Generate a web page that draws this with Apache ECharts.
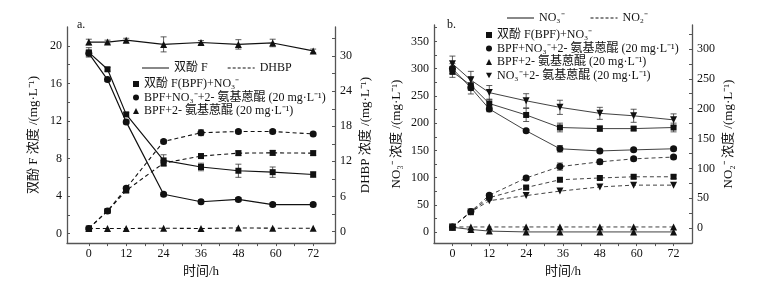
<!DOCTYPE html>
<html>
<head>
<meta charset="utf-8">
<script src="https://cdn.jsdelivr.net/npm/echarts@6/dist/echarts.min.js"></script>
<style>
  html, body { margin: 0; padding: 0; background: #fff; }
  #chart { width: 757px; height: 283px; }
</style>
</head>
<body>
<div id="chart"></div>
<script>
// ---- panel a: BPF (left axis) and DHBP (right axis) ----
const timesA = [0, 6, 12, 24, 36, 48, 59, 72];
const bpfNo3 = [19.3, 17.5, 12.7, 7.8, 7.1, 6.7, 6.55, 6.3];
const bpfNo3Aq = [19.2, 16.4, 11.9, 4.2, 3.4, 3.65, 3.1, 3.1];
const bpfAq = [20.4, 20.4, 20.6, 20.15, 20.35, 20.15, 20.3, 19.45];
const dhbpNo3 = [0.5, 3.5, 7.0, 11.7, 12.9, 13.4, 13.45, 13.4];
const dhbpNo3Aq = [0.5, 3.5, 7.4, 15.4, 16.9, 17.1, 17.1, 16.7];
const dhbpAq = [0.5, 0.5, 0.5, 0.55, 0.5, 0.6, 0.55, 0.55];
const errBpfNo3 = [0.5, 0.2, 0.2, 0.6, 0.4, 0.7, 0.55, 0.3];
const errBpfNo3Aq = [0.3, 0.2, 0.2, 0.2, 0.2, 0.2, 0.2, 0.2];
const errBpfAq = [0.3, 0.2, 0.2, 0.8, 0.2, 0.5, 0.4, 0.2];
const errDhbpNo3 = [0.2, 0.2, 0.3, 0.5, 0.4, 0.4, 0.4, 0.4];
const errDhbpNo3Aq = [0.2, 0.2, 0.3, 0.3, 0.5, 0.3, 0.3, 0.3];

// ---- panel b: NO3- (left axis) and NO2- (right axis) ----
const timesB = [0, 6, 12, 24, 35, 48, 59, 72];
const no3Bpf = [294, 269.5, 236, 215, 192, 190, 190, 192];
const no3BpfAq = [300, 265, 226, 186, 153, 149, 151, 153];
const no3BpfOnlyAq = [9, 5, 2, 0.5, 0.5, 0.5, 0.5, 0.5];
const no3Aq = [309, 279, 256, 241, 229, 218, 213.5, 206];
const no2Bpf = [2, 26.7, 51, 68, 81, 84, 86, 86];
const no2BpfAq = [2, 28, 55, 84, 103, 111, 116, 119];
const no2BpfOnlyAq = [2, 2, 2, 2, 2, 2, 2, 2];
const no2Aq = [2, 27, 46, 54.5, 62, 69, 72, 72];
const errNo3Bpf = [10, 16, 8, 12, 8, 5, 3, 8];
const errNo3BpfAq = [9, 5, 5, 3, 6, 3, 3, 3];
const errNo3Aq = [14, 16, 13, 13, 13, 11, 12, 11];
const errNo2BpfAq = [1, 2, 3, 3, 6, 4, 3, 3];
const errNo2Bpf = [1, 2, 2, 2, 3, 3, 3, 3];

const xLabels = [0, 12, 24, 36, 48, 60, 72];
const xTicks = [0, 6, 12, 18, 24, 30, 36, 42, 48, 54, 60, 66, 72];

const FONT = "'Liberation Serif', 'Noto Sans CJK SC', serif";
const INK = '#111';
const AXIS = '#555';
const downTri = 'path://M0,0 L10,0 L5,9 Z';

const N_BPF = '双酚 F(BPF)+NO₃⁻';
const N_BPF_AQ_NO3 = 'BPF+NO₃⁻+2- 氨基蒽醌 (20 mg·L⁻¹)';
const N_BPF_AQ = 'BPF+2- 氨基蒽醌 (20 mg·L⁻¹)';
const N_NO3_AQ = 'NO₃⁻+2- 氨基蒽醌 (20 mg·L⁻¹)';

// legend icons for line styles (a thin bar, solid or dashed)
const LW = 27;
const solidIcon = 'path://M0,0 L' + LW + ',0 L' + LW + ',1 L0,1 Z';
let dashIcon = 'path://';
for (let x = 0; x < LW; x += 5) {
  const e = Math.min(x + 3, LW);
  dashIcon += 'M' + x + ',0 L' + e + ',0 L' + e + ',1 L' + x + ',1 Z ';
}

function steps(from, to, step) {
  const out = [];
  for (let v = from; v <= to + 1e-9; v += step) out.push(v);
  return out;
}

function pairs(xs, ys) { return xs.map((x, i) => [x, ys[i]]); }
function triples(xs, ys, es) { return xs.map((x, i) => [x, ys[i], es[i]]); }

function errRender(params, api) {
  const x = api.value(0), y = api.value(1), e = api.value(2);
  const hi = api.coord([x, y + e]);
  const lo = api.coord([x, y - e]);
  const w = 3;
  const st = { stroke: '#333', lineWidth: 0.8 };
  return {
    type: 'group',
    children: [
      { type: 'line', shape: { x1: hi[0], y1: hi[1], x2: lo[0], y2: lo[1] }, style: st },
      { type: 'line', shape: { x1: hi[0] - w, y1: hi[1], x2: hi[0] + w, y2: hi[1] }, style: st },
      { type: 'line', shape: { x1: lo[0] - w, y1: lo[1], x2: lo[0] + w, y2: lo[1] }, style: st }
    ]
  };
}

function errSeries(xi, yi, xs, ys, es) {
  return {
    type: 'custom', xAxisIndex: xi, yAxisIndex: yi, z: 1, silent: true,
    renderItem: errRender, encode: { x: 0, y: 1 },
    data: triples(xs, ys, es)
  };
}

function lineSeries(name, xi, yi, xs, ys, symbol, dashed, width) {
  return {
    name: name, type: 'line', xAxisIndex: xi, yAxisIndex: yi, z: 3,
    data: pairs(xs, ys), symbol: symbol, symbolSize: symbol === 'rect' ? 6 : 7,
    color: INK, itemStyle: { color: INK },
    lineStyle: { color: INK, width: width, type: dashed ? [4, 3] : 'solid' },
    emphasis: { disabled: true }, animation: false
  };
}

function dummy(name) {
  return {
    name: name, type: 'line', data: [], symbol: 'none', xAxisIndex: 0, yAxisIndex: 0,
    color: INK, itemStyle: { color: INK }, lineStyle: { color: INK, width: 0 }
  };
}

function xAxisCfg(gi, min, max) {
  return {
    type: 'value', gridIndex: gi, min: min, max: max,
    name: '时间/h', nameLocation: 'middle', nameGap: 21,
    nameTextStyle: { fontFamily: FONT, fontSize: 13, color: INK },
    axisLine: { show: true, onZero: false, lineStyle: { color: AXIS, width: 1.3 } },
    axisTick: { show: true, inside: false, length: 3, customValues: xTicks, lineStyle: { color: AXIS } },
    axisLabel: { customValues: xLabels, fontFamily: FONT, fontSize: 12, color: INK, margin: 5 },
    splitLine: { show: false }
  };
}

function yAxisCfg(gi, pos, min, max, labels, ticks, name, gap) {
  return {
    type: 'value', gridIndex: gi, position: pos, min: min, max: max,
    name: name, nameLocation: 'middle', nameRotate: 90, nameGap: gap,
    nameTextStyle: { fontFamily: FONT, fontSize: 13, color: INK },
    axisLine: { show: true, onZero: false, lineStyle: { color: AXIS, width: 1.3 } },
    axisTick: { show: true, inside: true, length: 3, customValues: ticks, lineStyle: { color: AXIS } },
    axisLabel: { customValues: labels, fontFamily: FONT, fontSize: 12, color: INK, margin: 5 },
    splitLine: { show: false }
  };
}

const legendText = { fontFamily: FONT, fontSize: 12, color: INK };

const option = {
  animation: false,
  backgroundColor: '#fff',
  grid: [
    { left: 67, right: 422, top: 27, bottom: 39 },
    { left: 434, right: 65, top: 25, bottom: 39 }
  ],
  xAxis: [xAxisCfg(0, -7, 79), xAxisCfg(1, -6, 78)],
  yAxis: [
    yAxisCfg(0, 'left', -1, 22, steps(0, 20, 4), steps(0, 20, 2), '双酚 F 浓度 /(mg·L⁻¹)', 27),
    yAxisCfg(0, 'right', -2, 35, steps(0, 30, 6), steps(0, 33, 3), 'DHBP 浓度 /(mg·L⁻¹)', 24),
    yAxisCfg(1, 'left', -20, 380, steps(0, 350, 50), steps(0, 375, 25), 'NO₃⁻ 浓度 /(mg·L⁻¹)', 31),
    yAxisCfg(1, 'right', -25, 340, steps(0, 300, 50), steps(0, 325, 25), 'NO₂⁻ 浓度 /(mg·L⁻¹)', 30)
  ],
  legend: [
    {
      left: 137, top: 57, itemWidth: LW, itemHeight: 1, itemGap: 20,
      textStyle: legendText, selectedMode: false,
      data: [{ name: '双酚 F', icon: solidIcon }, { name: 'DHBP', icon: dashIcon }]
    },
    {
      orient: 'vertical', left: 128, top: 73, itemWidth: 6, itemHeight: 6, itemGap: 1.5,
      textStyle: legendText, selectedMode: false,
      data: [
        { name: N_BPF, icon: 'rect' },
        { name: N_BPF_AQ_NO3, icon: 'circle' },
        { name: N_BPF_AQ, icon: 'triangle' }
      ]
    },
    {
      left: 502, top: 7, itemWidth: LW, itemHeight: 1, itemGap: 26,
      textStyle: legendText, selectedMode: false,
      data: [{ name: 'NO₃⁻', icon: solidIcon }, { name: 'NO₂⁻', icon: dashIcon }]
    },
    {
      orient: 'vertical', left: 481, top: 24, itemWidth: 6, itemHeight: 6, itemGap: 1.5,
      textStyle: legendText, selectedMode: false,
      data: [
        { name: N_BPF, icon: 'rect' },
        { name: N_BPF_AQ_NO3, icon: 'circle' },
        { name: N_BPF_AQ, icon: 'triangle' },
        { name: N_NO3_AQ, icon: downTri }
      ]
    }
  ],
  graphic: [
    { type: 'text', left: 77, top: 19, style: { text: 'a.', font: "12px 'Liberation Serif'", fill: INK } },
    { type: 'text', left: 447, top: 19, style: { text: 'b.', font: "12px 'Liberation Serif'", fill: INK } }
  ],
  series: [
    dummy('双酚 F'),
    dummy('DHBP'),
    dummy('NO₃⁻'),
    dummy('NO₂⁻'),

    errSeries(0, 0, timesA, bpfNo3, errBpfNo3),
    errSeries(0, 0, timesA, bpfNo3Aq, errBpfNo3Aq),
    errSeries(0, 0, timesA, bpfAq, errBpfAq),
    errSeries(0, 1, timesA, dhbpNo3, errDhbpNo3),
    errSeries(0, 1, timesA, dhbpNo3Aq, errDhbpNo3Aq),
    lineSeries(N_BPF, 0, 0, timesA, bpfNo3, 'rect', false, 1.2),
    lineSeries(N_BPF_AQ_NO3, 0, 0, timesA, bpfNo3Aq, 'circle', false, 1.2),
    lineSeries(N_BPF_AQ, 0, 0, timesA, bpfAq, 'triangle', false, 1.2),
    lineSeries(N_BPF, 0, 1, timesA, dhbpNo3, 'rect', true, 1.1),
    lineSeries(N_BPF_AQ_NO3, 0, 1, timesA, dhbpNo3Aq, 'circle', true, 1.1),
    lineSeries(N_BPF_AQ, 0, 1, timesA, dhbpAq, 'triangle', true, 1.1),

    errSeries(1, 2, timesB, no3Bpf, errNo3Bpf),
    errSeries(1, 2, timesB, no3BpfAq, errNo3BpfAq),
    errSeries(1, 2, timesB, no3Aq, errNo3Aq),
    errSeries(1, 3, timesB, no2BpfAq, errNo2BpfAq),
    errSeries(1, 3, timesB, no2Bpf, errNo2Bpf),
    lineSeries(N_BPF, 1, 2, timesB, no3Bpf, 'rect', false, 0.8),
    lineSeries(N_BPF_AQ_NO3, 1, 2, timesB, no3BpfAq, 'circle', false, 0.8),
    lineSeries(N_BPF_AQ, 1, 2, timesB, no3BpfOnlyAq, 'triangle', false, 0.8),
    lineSeries(N_NO3_AQ, 1, 2, timesB, no3Aq, downTri, false, 0.8),
    lineSeries(N_BPF, 1, 3, timesB, no2Bpf, 'rect', true, 0.8),
    lineSeries(N_BPF_AQ_NO3, 1, 3, timesB, no2BpfAq, 'circle', true, 0.8),
    lineSeries(N_BPF_AQ, 1, 3, timesB, no2BpfOnlyAq, 'triangle', true, 0.8),
    lineSeries(N_NO3_AQ, 1, 3, timesB, no2Aq, downTri, true, 0.8)
  ]
};

const chart = echarts.init(document.getElementById('chart'), null, { renderer: 'canvas' });
chart.setOption(option);
</script>
</body>
</html>
